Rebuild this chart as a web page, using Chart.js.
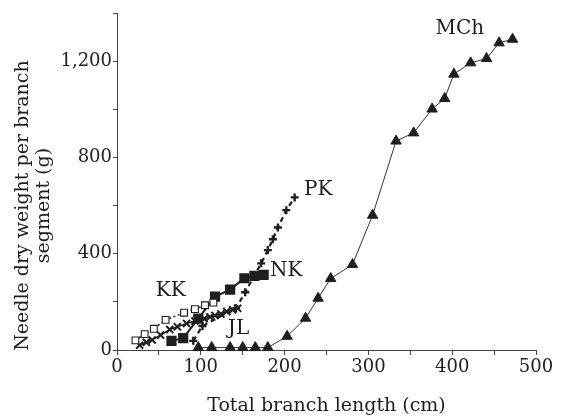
<!DOCTYPE html>
<html>
<head>
<meta charset="utf-8">
<script src="https://cdn.jsdelivr.net/npm/chart.js@4"></script>
<style>
html,body{margin:0;padding:0;background:#fff;}
#c{display:block;}
</style>
</head>
<body>
<canvas id="c" width="571" height="417"></canvas>
<script>
// ---- data (Total branch length cm, needle dry weight g) ----
const kkX = [22, 33, 44, 58, 80, 93, 105, 115];
const kkY = [40, 66, 88, 125, 155, 170, 186, 197];

const jlX = [27, 35, 42, 52, 63, 72, 83, 93, 104, 111, 117, 124, 131, 138, 144];
const jlY = [20, 32, 42, 62, 85, 97, 110, 120, 130, 137, 143, 150, 160, 167, 173];

const nkX = [65, 79, 97, 117, 135, 152, 164, 175];
const nkY = [38, 49, 130, 222, 251, 298, 308, 312];

const pkX = [91, 102, 142, 153, 172, 180, 186, 192, 202, 212];
const pkY = [38, 100, 173, 240, 360, 415, 460, 509, 581, 634];

const mchX = [97, 113, 135, 150, 165, 180, 203, 225, 240, 255, 281, 305, 333, 354, 376, 391, 402, 422, 441, 456, 472];
const mchY = [10, 10, 10, 10, 10, 10, 57, 132, 215, 297, 355, 560, 868, 902, 1001, 1045, 1146, 1193, 1211, 1276, 1291];

const xTicksLabelled = [0, 100, 200, 300, 400, 500];
const yTicksLabelled = [0, 400, 800, 1200];

const seriesNames = ['KK', 'JL', 'NK', 'PK', 'MCh'];
const labelX = [64, 145, 202, 240, 409];
const labelY = [245, 90, 327, 664, 1335];

const yTitleLines = ['Needle dry weight per branch', 'segment (g)'];

const pts = (xs, ys) => xs.map((v, i) => ({x: v, y: ys[i]}));
const INK = '#1e1e1e';
const FONT = "'DejaVu Serif', serif";

const textPlugin = {
  id: 'textPlugin',
  afterDatasetsDraw(chart) {
    const {ctx, scales: {x, y}} = chart;
    ctx.save();
    ctx.fillStyle = INK;
    ctx.font = "20px " + FONT;
    ctx.textAlign = 'center';
    ctx.textBaseline = 'middle';
    seriesNames.forEach((n, i) => {
      ctx.fillText(n, x.getPixelForValue(labelX[i]), y.getPixelForValue(labelY[i]));
    });
    ctx.restore();
  },
  afterDraw(chart) {
    const {ctx, scales: {y}} = chart;
    const cy = (y.getPixelForValue(0) + y.getPixelForValue(1200)) / 2;
    ctx.save();
    ctx.fillStyle = INK;
    ctx.font = "19px " + FONT;
    ctx.textAlign = 'center';
    ctx.textBaseline = 'middle';
    ctx.translate(0, cy);
    ctx.rotate(-Math.PI / 2);
    ctx.fillText(yTitleLines[0], 0, 23);
    ctx.fillText(yTitleLines[1], 0, 44);
    ctx.restore();
  }
};

new Chart(document.getElementById('c'), {
  type: 'scatter',
  data: {
    datasets: [
      {label: 'KK', data: pts(kkX, kkY), showLine: true, borderColor: INK, borderWidth: 1.5,
       borderDash: [2, 2.5], pointStyle: 'rect', pointRadius: 4.8, backgroundColor: '#fff',
       pointBorderColor: INK, pointBorderWidth: 1.1, clip: false},
      {label: 'JL', data: pts(jlX, jlY), showLine: true, borderColor: INK, borderWidth: 1.6,
       pointStyle: 'crossRot', pointRadius: 5, pointBorderColor: INK, pointBorderWidth: 2, clip: false},
      {label: 'NK', data: pts(nkX, nkY), showLine: true, borderColor: INK, borderWidth: 2,
       pointStyle: 'rect', pointRadius: 5.8, backgroundColor: INK, pointBackgroundColor: INK,
       pointBorderColor: INK, clip: false},
      {label: 'PK', data: pts(pkX, pkY), showLine: true, borderColor: INK, borderWidth: 2.2,
       borderDash: [5, 4], pointStyle: 'cross', pointRadius: 4, pointBorderColor: INK, pointBorderWidth: 2.4, clip: false},
      {label: 'MCh', data: pts(mchX, mchY), showLine: true, borderColor: '#333', borderWidth: 1,
       pointStyle: 'triangle', pointRadius: 6, pointBackgroundColor: INK, pointBorderColor: INK,
       pointBorderWidth: 1, clip: false}
    ]
  },
  options: {
    responsive: false,
    animation: false,
    devicePixelRatio: 1,
    layout: {padding: {top: 13, right: 35, left: 0, bottom: 0}},
    plugins: {legend: {display: false}, tooltip: {enabled: false}},
    scales: {
      x: {
        type: 'linear', min: 0, max: 500,
        afterFit(s) { s.height = 67; },
        ticks: {stepSize: 50, autoSkip: false, maxRotation: 0, color: INK, padding: 2,
          font: {family: FONT, size: 18},
          callback: v => xTicksLabelled.includes(v) ? String(v) : ''},
        grid: {drawOnChartArea: false, drawTicks: true, tickLength: 5, color: '#444'},
        border: {display: true, color: '#444', width: 1},
        title: {display: true, text: 'Total branch length (cm)', color: INK,
          font: {family: FONT, size: 19}, padding: {top: 0, bottom: 0}}
      },
      y: {
        type: 'linear', min: 0, max: 1400,
        afterFit(s) { s.width = 117; },
        ticks: {stepSize: 200, autoSkip: false, color: INK, padding: 1,
          font: {family: FONT, size: 18},
          callback: v => yTicksLabelled.includes(v) ? v.toLocaleString('en-US') : ''},
        grid: {drawOnChartArea: false, drawTicks: true, tickLength: 4, color: '#444'},
        border: {display: true, color: '#444', width: 1},
        title: {display: false}
      }
    }
  },
  plugins: [textPlugin]
});
</script>
</body>
</html>
